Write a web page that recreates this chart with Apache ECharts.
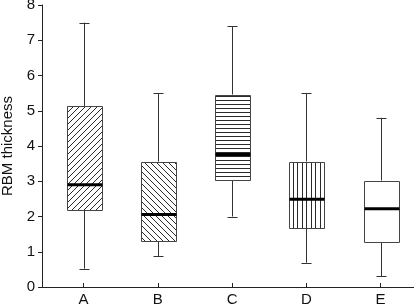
<!DOCTYPE html>
<html>
<head>
<meta charset="utf-8">
<script src="https://cdn.jsdelivr.net/npm/echarts@6/dist/echarts.min.js"></script>
<style>
html,body{margin:0;padding:0;background:#fff;}
#chart{width:414px;height:305px;}
</style>
</head>
<body>
<div id="chart"></div>
<script>
const categories = ['A', 'B', 'C', 'D', 'E'];
const lowWhisker = [0.52, 0.88, 2.0, 0.69, 0.3];
const q1 = [2.18, 1.3, 3.03, 1.66, 1.28];
const median = [2.9, 2.06, 3.76, 2.49, 2.22];
const q3 = [5.13, 3.56, 5.46, 3.56, 3.02];
const highWhisker = [7.5, 5.5, 7.4, 5.5, 4.8];
const yTicks = [0, 1, 2, 3, 4, 5, 6, 7, 8];

const hatchKinds = ['diag', 'backdiag', 'horiz', 'vert', 'none'];

function makePattern(kind) {
  if (kind === 'none') return '#ffffff';
  const c = document.createElement('canvas');
  let w = 6, h = 6;
  if (kind === 'horiz') { w = 4; h = 4; }
  if (kind === 'vert') { w = 9; h = 4; }
  c.width = w; c.height = h;
  const ctx = c.getContext('2d');
  ctx.fillStyle = '#fff';
  ctx.fillRect(0, 0, w, h);
  ctx.strokeStyle = '#2a2a2a';
  ctx.lineWidth = 1;
  ctx.beginPath();
  if (kind === 'diag') {
    ctx.moveTo(0, h); ctx.lineTo(w, 0);
    ctx.moveTo(-1, 1); ctx.lineTo(1, -1);
    ctx.moveTo(w - 1, h + 1); ctx.lineTo(w + 1, h - 1);
  } else if (kind === 'backdiag') {
    ctx.moveTo(0, 0); ctx.lineTo(w, h);
    ctx.moveTo(-1, h - 1); ctx.lineTo(1, h + 1);
    ctx.moveTo(w - 1, -1); ctx.lineTo(w + 1, 1);
  } else if (kind === 'horiz') {
    ctx.moveTo(0, 0.5); ctx.lineTo(w, 0.5);
  } else if (kind === 'vert') {
    ctx.moveTo(0.5, 0); ctx.lineTo(0.5, h);
    ctx.moveTo(5.5, 0); ctx.lineTo(5.5, h);
  }
  ctx.stroke();
  return { image: c, repeat: 'repeat' };
}
const fills = hatchKinds.map(makePattern);

const seriesData = categories.map((c, i) => [i + 1, lowWhisker[i], q1[i], median[i], q3[i], highWhisker[i]]);

function renderItem(params, api) {
  const x = api.value(0);
  const lo = api.coord([x, api.value(1)]);
  const b1 = api.coord([x, api.value(2)]);
  const md = api.coord([x, api.value(3)]);
  const b3 = api.coord([x, api.value(4)]);
  const hi = api.coord([x, api.value(5)]);
  const band = api.size([1, 0])[0];
  const boxW = Math.round(band * 0.475);
  const capW = Math.round(band * 0.135);
  const cx = Math.round(lo[0]) + 0.5;
  const lineStyle = { stroke: '#333', lineWidth: 1 };
  const left = Math.round(cx - boxW / 2) + 0.5;
  return {
    type: 'group',
    children: [
      { type: 'line', shape: { x1: cx, y1: hi[1], x2: cx, y2: b3[1] }, style: lineStyle },
      { type: 'line', shape: { x1: cx, y1: b1[1], x2: cx, y2: lo[1] }, style: lineStyle },
      { type: 'line', shape: { x1: cx - capW / 2, y1: Math.round(hi[1]) + 0.5, x2: cx + capW / 2, y2: Math.round(hi[1]) + 0.5 }, style: lineStyle },
      { type: 'line', shape: { x1: cx - capW / 2, y1: Math.round(lo[1]) + 0.5, x2: cx + capW / 2, y2: Math.round(lo[1]) + 0.5 }, style: lineStyle },
      { type: 'rect', shape: { x: left, y: Math.round(b3[1]) + 0.5, width: boxW, height: Math.round(b1[1]) - Math.round(b3[1]) },
        style: { fill: fills[params.dataIndex], stroke: '#444', lineWidth: 1 } },
      { type: 'line', shape: { x1: left, y1: md[1], x2: left + boxW, y2: md[1] }, style: { stroke: '#000', lineWidth: 3 } }
    ]
  };
}

const chart = echarts.init(document.getElementById('chart'), null, { renderer: 'canvas' });
const font = "'Liberation Sans', Arial, sans-serif";
chart.setOption({
  animation: false,
  backgroundColor: '#fff',
  grid: { left: 42, right: 0, top: 5, bottom: 18, containLabel: false, outerBoundsMode: 'none' },
  xAxis: {
    type: 'value',
    min: 0.44,
    max: 5.45,
    splitLine: { show: false },
    axisLine: { show: true, onZero: false, lineStyle: { color: '#222', width: 1 } },
    axisTick: { show: true, inside: true, length: 4, customValues: [1, 2, 3, 4, 5], lineStyle: { color: '#222' } },
    axisLabel: {
      customValues: [1, 2, 3, 4, 5],
      formatter: v => categories[Math.round(v) - 1],
      fontSize: 15, color: '#111', fontFamily: font, margin: 5
    }
  },
  yAxis: {
    type: 'value',
    min: 0,
    max: 8,
    interval: 1,
    splitLine: { show: false },
    axisLine: { show: true, lineStyle: { color: '#222', width: 1 } },
    axisTick: { show: true, length: 4, lineStyle: { color: '#222' } },
    axisLabel: { fontSize: 15, color: '#111', fontFamily: font, margin: 7, formatter: v => String(v) },
    name: 'RBM thickness',
    nameLocation: 'middle',
    nameGap: 26,
    nameTextStyle: { fontSize: 15, color: '#111', fontFamily: font }
  },
  series: [{
    type: 'custom',
    renderItem: renderItem,
    encode: { x: 0, y: [1, 2, 3, 4, 5] },
    data: seriesData,
    clip: false
  }]
});
</script>
</body>
</html>
